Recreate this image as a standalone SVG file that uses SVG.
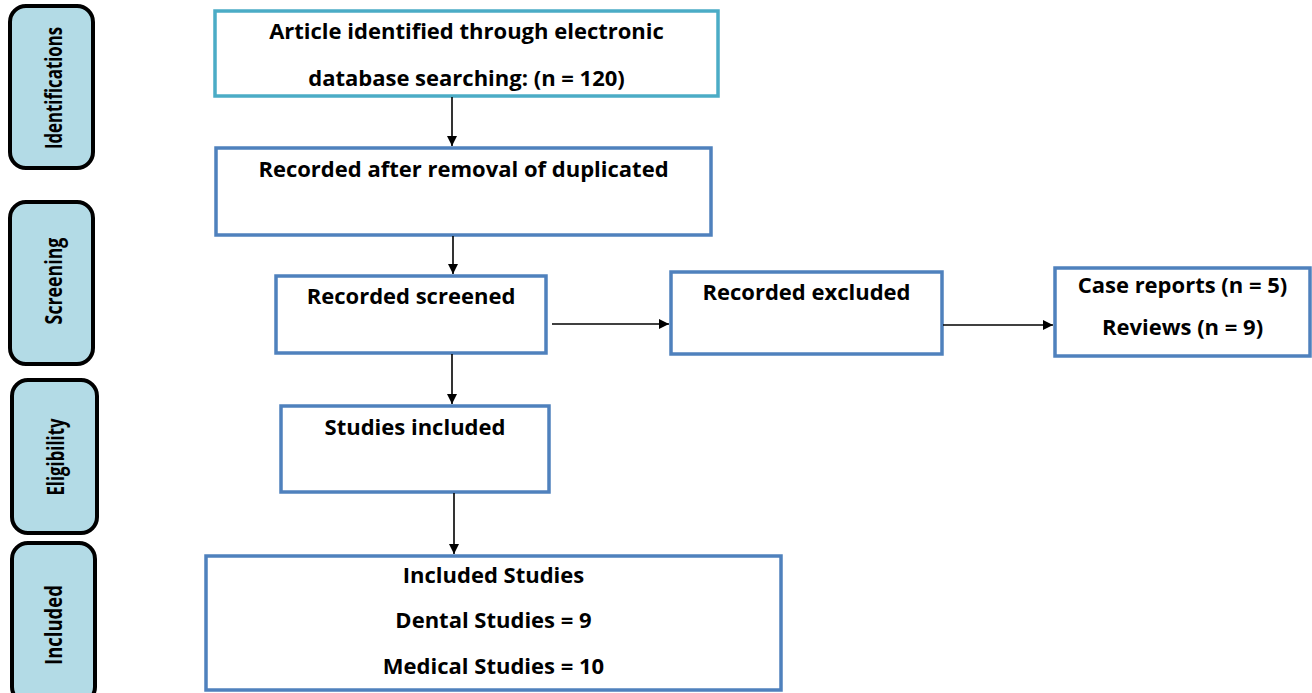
<svg xmlns="http://www.w3.org/2000/svg" width="1312" height="693" viewBox="0 0 1312 693">
<defs>
<marker id="ah" viewBox="0 0 10 10" refX="10" refY="5" markerWidth="12" markerHeight="10" markerUnits="userSpaceOnUse" orient="auto">
<path d="M0,0 L10,5 L0,10 z" fill="#000"/>
</marker>
<style>
.stage rect{fill:#b3dbe6;stroke:#000;stroke-width:4}
.stage text{font-family:"Open Sans","Liberation Sans",sans-serif;font-weight:bold;font-size:24px;fill:#000;text-anchor:middle}
.box rect{fill:#fff;stroke:#4f81bd;stroke-width:3.5}
.box text{font-family:"Open Sans","Liberation Sans",sans-serif;font-weight:bold;font-size:22px;fill:#000;text-anchor:middle}
.conn line{stroke:#000;stroke-width:1.6;marker-end:url(#ah)}
</style>
</defs>
<rect width="1312" height="693" fill="#fff"/>
<g id="stage-identifications" class="stage">
<rect x="10" y="6" width="83" height="162" rx="16"/>
<text transform="translate(62,88) rotate(-90) scale(0.7,1)">Identifications</text>
</g>
<g id="stage-screening" class="stage">
<rect x="10" y="202" width="83" height="162" rx="16"/>
<text transform="translate(62,281) rotate(-90) scale(0.74,1)">Screening</text>
</g>
<g id="stage-eligibility" class="stage">
<rect x="12" y="380" width="85" height="153" rx="16"/>
<text transform="translate(64,457) rotate(-90) scale(0.7,1)">Eligibility</text>
</g>
<g id="stage-included" class="stage">
<rect x="12" y="543" width="83" height="160" rx="16"/>
<text transform="translate(62,625) rotate(-90) scale(0.77,1)">Included</text>
</g>
<g id="n-identified" class="box">
<rect x="215" y="11" width="503" height="85" style="stroke:#4bacc6"/>
<text x="466.5" y="39">Article identified through electronic</text>
<text x="466.5" y="86">database searching: (n = 120)</text>
</g>
<g id="n-dedup" class="box">
<rect x="216" y="148" width="495" height="87"/>
<text x="463.5" y="177">Recorded after removal of duplicated</text>
</g>
<g id="n-screened" class="box">
<rect x="276" y="276" width="270" height="77"/>
<text x="411" y="304">Recorded screened</text>
</g>
<g id="n-excluded" class="box">
<rect x="671" y="272" width="271" height="82"/>
<text x="806.5" y="300">Recorded excluded</text>
</g>
<g id="n-reasons" class="box">
<rect x="1055" y="268" width="255" height="88"/>
<text x="1182.5" y="293">Case reports (n = 5)</text>
<text x="1182.5" y="335">Reviews (n = 9)</text>
</g>
<g id="n-studies" class="box">
<rect x="281" y="406" width="268" height="86"/>
<text x="415" y="435">Studies included</text>
</g>
<g id="n-included" class="box">
<rect x="206" y="556" width="575" height="134"/>
<text x="493.5" y="583">Included Studies</text>
<text x="493.5" y="628">Dental Studies = 9</text>
<text x="493.5" y="674">Medical Studies = 10</text>
</g>
<g id="connectors" class="conn">
<line x1="452" y1="97" x2="452" y2="146"/>
<line x1="453" y1="236" x2="453" y2="274"/>
<line x1="552" y1="324" x2="669" y2="324"/>
<line x1="943" y1="325" x2="1053" y2="325"/>
<line x1="452" y1="354" x2="452" y2="404"/>
<line x1="454" y1="493" x2="454" y2="554"/>
</g>
</svg>
